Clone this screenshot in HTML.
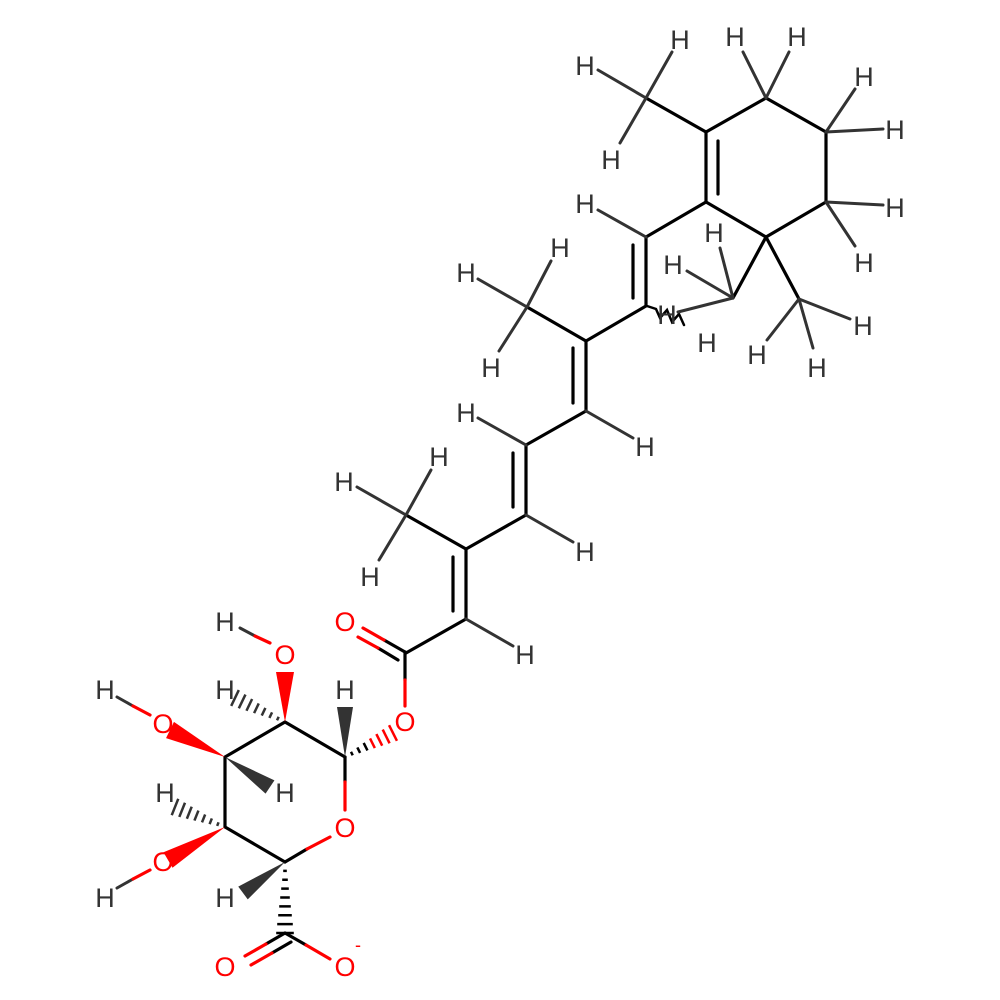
<!DOCTYPE html>
<html><head><meta charset="utf-8"><style>
html,body{margin:0;padding:0;background:#fff}
svg{display:block}
text{font-family:"Liberation Sans","DejaVu Sans",sans-serif;font-size:27px;text-anchor:middle;dominant-baseline:central}
</style></head><body>
<svg id="s" width="1000" height="1000" viewBox="0 0 1000 1000" xmlns="http://www.w3.org/2000/svg">
<g stroke="#000" stroke-width="3.2" fill="none" stroke-linecap="round">
<!-- ring -->
<path d="M706,132 L766,98 L826,132 L826,202 L766,237 L706,202 Z"/>
<line x1="718" y1="141" x2="718" y2="194"/>
<line x1="706" y1="132" x2="646" y2="98"/>
<line x1="766" y1="237" x2="733" y2="298"/>
<line x1="766" y1="237" x2="799" y2="299"/>
<!-- chain -->
<polyline points="706,202 646,237 646,306 586,341 586,411 526,445 526,515 466,549 466,619 406,653"/>
<line x1="633" y1="245" x2="633" y2="298"/>
<line x1="573" y1="348" x2="573" y2="403"/>
<line x1="513" y1="453" x2="513" y2="507"/>
<line x1="453" y1="557" x2="453" y2="611"/>
<line x1="586" y1="341" x2="527" y2="307"/>
<line x1="466" y1="549" x2="406" y2="515"/>
<!-- wavy -->
<polyline stroke-width="2.5" points="647,306 656,309 660,318 667,310 672,322 679,314 684,325"/>
<!-- sugar ring -->
<polyline points="345,757 285,722 225,757 225,827 285,862"/>
<line x1="345" y1="757" x2="345" y2="782"/>
<line x1="405" y1="652" x2="405" y2="680"/>
<line x1="285" y1="862" x2="307" y2="849"/>
<line x1="405" y1="652" x2="384" y2="640"/>
<line x1="398" y1="660" x2="378" y2="648"/>
<line x1="285" y1="933" x2="266" y2="944"/>
<line x1="291" y1="942" x2="272" y2="953"/>
<line x1="285" y1="933" x2="306" y2="945"/>
</g>
<g stroke="#333" stroke-width="3" stroke-linecap="round">
<line x1="646" y1="98" x2="598" y2="70"/><line x1="646" y1="98" x2="672" y2="52"/><line x1="646" y1="98" x2="620" y2="143"/>
<line x1="766" y1="98" x2="743" y2="52"/><line x1="766" y1="98" x2="789" y2="52"/>
<line x1="826" y1="132" x2="855" y2="89"/><line x1="826" y1="132" x2="883" y2="129"/>
<line x1="826" y1="202" x2="883" y2="205"/><line x1="826" y1="202" x2="855" y2="246"/>
<line x1="733" y1="298" x2="720" y2="248"/><line x1="733" y1="298" x2="687" y2="271"/><line x1="733" y1="298" x2="678" y2="312"/>
<line x1="799" y1="299" x2="850" y2="319"/><line x1="799" y1="299" x2="813" y2="348"/><line x1="799" y1="299" x2="767" y2="340"/>
<line x1="646" y1="237" x2="598" y2="210"/>
<line x1="527" y1="307" x2="478" y2="279"/><line x1="527" y1="307" x2="551" y2="261"/><line x1="527" y1="307" x2="499" y2="351"/>
<line x1="586" y1="411" x2="633" y2="438"/>
<line x1="526" y1="445" x2="478" y2="418"/>
<line x1="526" y1="515" x2="573" y2="542"/>
<line x1="406" y1="515" x2="357" y2="487"/><line x1="406" y1="515" x2="431" y2="470"/><line x1="406" y1="515" x2="379" y2="560"/>
<line x1="466" y1="619" x2="513" y2="646"/>
<line x1="117" y1="697" x2="133" y2="706"/><line x1="117" y1="888" x2="133" y2="879"/><line x1="240" y1="628" x2="255" y2="636"/>
</g>
<g stroke="#f00" stroke-width="3.2" stroke-linecap="round">
<line x1="345" y1="782" x2="345" y2="810"/>
<line x1="405" y1="680" x2="405" y2="706"/>
<line x1="307" y1="849" x2="330" y2="837"/>
<line x1="384" y1="640" x2="363" y2="628"/>
<line x1="378" y1="648" x2="358" y2="637"/>
<line x1="266" y1="944" x2="245" y2="956"/>
<line x1="272" y1="953" x2="251" y2="965"/>
<line x1="306" y1="945" x2="330" y2="959"/>
<line x1="133" y1="706" x2="150" y2="715"/><line x1="133" y1="879" x2="150" y2="870"/><line x1="255" y1="636" x2="270" y2="643"/>
</g>
<g id="dyn"></g>
<g fill="#333">
<text x="585" y="66">H</text><text x="680" y="40">H</text><text x="611" y="160">H</text>
<text x="735" y="37">H</text><text x="797" y="37">H</text>
<text x="864" y="77">H</text><text x="895" y="130">H</text>
<text x="895" y="208">H</text><text x="864" y="263">H</text>
<text x="714" y="233">H</text><text x="673" y="265">H</text><text x="667" y="315">H</text>
<text x="863" y="326">H</text><text x="817" y="368">H</text><text x="757" y="355">H</text>
<text x="585" y="204">H</text><text x="707" y="343">H</text>
<text x="466" y="273">H</text><text x="560" y="248">H</text><text x="491" y="368">H</text>
<text x="645" y="447">H</text><text x="466" y="413">H</text><text x="585" y="552">H</text>
<text x="344" y="482">H</text><text x="439" y="457">H</text><text x="370" y="577">H</text>
<text x="525" y="655">H</text>
<text x="345" y="690">H</text><text x="225" y="690">H</text><text x="225" y="622">H</text>
<text x="105" y="690">H</text><text x="285" y="793">H</text><text x="165" y="793">H</text>
<text x="105" y="898">H</text><text x="225" y="898">H</text>
</g>
<g fill="#f00">
<text x="345" y="622">O</text><text x="405" y="722">O</text><text x="345" y="828">O</text>
<text x="285" y="655">O</text><text x="163" y="724">O</text><text x="163" y="862">O</text>
<text x="225" y="967">O</text><text x="345" y="967">O</text>
<text x="358" y="945" style="font-size:18px">-</text>
</g>
</svg>
<script>
var g=document.getElementById('dyn'),NS='http://www.w3.org/2000/svg';
function wedge(x1,y1,x2,y2,w,c){var dx=x2-x1,dy=y2-y1,L=Math.hypot(dx,dy),px=-dy/L*w,py=dx/L*w;
var p=document.createElementNS(NS,'polygon');p.setAttribute('points',x1+','+y1+' '+(x2+px)+','+(y2+py)+' '+(x2-px)+','+(y2-py));p.setAttribute('fill',c);g.appendChild(p);}
function hash(x1,y1,x2,y2,w,c,n){var dx=x2-x1,dy=y2-y1,L=Math.hypot(dx,dy),ux=-dy/L,uy=dx/L;
for(var i=1;i<=n;i++){var t=i/n,cx=x1+dx*t,cy=y1+dy*t,h=w*t+0.8;var l=document.createElementNS(NS,'line');
l.setAttribute('x1',cx+ux*h);l.setAttribute('y1',cy+uy*h);l.setAttribute('x2',cx-ux*h);l.setAttribute('y2',cy-uy*h);
l.setAttribute('stroke',(typeof c==='function')?c(t):c);l.setAttribute('stroke-width','2.5');g.appendChild(l);}}
wedge(345,757,345,707,8,'#333');
hash(345,757,393,733,8,function(t){return t>0.5?'#f00':'#000'},7);
hash(285,862,285,933,8,'#000',8);
wedge(285,862,243,893,8,'#333');
wedge(225,827,168,860,9,'#f00');
hash(225,827,175,807,8,'#333',7);
wedge(225,757,170,730,9,'#f00');
wedge(225,757,270,787,8,'#333');
wedge(285,722,285,672,9,'#f00');
hash(285,722,235,698,8,'#333',7);
</script>
</body></html>
